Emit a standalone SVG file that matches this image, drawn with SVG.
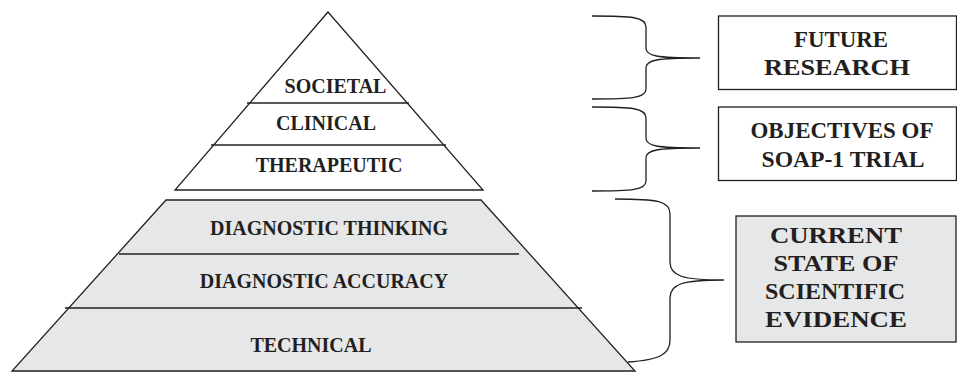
<svg xmlns="http://www.w3.org/2000/svg" width="957" height="372" viewBox="0 0 957 372">
  <defs>
    <style>
      .edge { fill: none; stroke: #231f20; stroke-width: 1.3; }
      .tier-top { fill: #ffffff; stroke: #231f20; stroke-width: 1.3; stroke-linejoin: miter; }
      .tier-base { fill: #e6e7e8; stroke: #231f20; stroke-width: 1.3; stroke-linejoin: miter; }
      .box { fill: #ffffff; stroke: #231f20; stroke-width: 1.3; }
      .box-grey { fill: #e6e7e8; stroke: #231f20; stroke-width: 1.3; }
      .lbl { font-family: "Liberation Serif", "Times New Roman", serif; font-weight: bold; fill: #231f20; text-anchor: middle; }
      .lvl { font-size: 20px; }
      .cap { font-size: 23.5px; }
    </style>
  </defs>

  <!-- upper pyramid: societal / clinical / therapeutic -->
  <g id="pyramid-top">
    <polygon class="tier-top" points="328,12 175,190 483,190"/>
    <line class="edge" x1="247" y1="103" x2="409" y2="103"/>
    <line class="edge" x1="211" y1="145" x2="446" y2="145"/>
  </g>
  <g id="level-societal"><text class="lbl lvl" x="335.5" y="93">SOCIETAL</text></g>
  <g id="level-clinical"><text class="lbl lvl" x="326" y="130">CLINICAL</text></g>
  <g id="level-therapeutic"><text class="lbl lvl" x="329" y="172">THERAPEUTIC</text></g>

  <!-- lower pyramid: diagnostic thinking / accuracy / technical -->
  <g id="pyramid-base">
    <polygon class="tier-base" points="166,200 481,200 635,371 12,371"/>
    <line class="edge" x1="119" y1="254" x2="519" y2="254"/>
    <line class="edge" x1="65" y1="308" x2="582" y2="308"/>
  </g>
  <g id="level-diag-thinking"><text class="lbl lvl" x="329" y="235">DIAGNOSTIC THINKING</text></g>
  <g id="level-diag-accuracy"><text class="lbl lvl" x="324" y="288">DIAGNOSTIC ACCURACY</text></g>
  <g id="level-technical"><text class="lbl lvl" x="311" y="352">TECHNICAL</text></g>

  <!-- braces grouping the levels -->
  <g id="connectors">
    <path class="edge" d="M592,16 C632,16 646,17 646,27 L646,48 C646,56 656,58 700,58 M700,58 C656,58 646,60 646,68 L646,89 C646,98 632,99 592,99"/>
    <path class="edge" d="M592,107 C632,107 646,108 646,118 L646,138 C646,146 656,148 700,148 M700,148 C656,148 646,150 646,158 L646,181 C646,190 632,191 592,191"/>
    <path class="edge" d="M615,199 C658,199 670,201 670,214 L670,262 C670,276 682,280 724,280 M724,280 C682,280 670,284 670,298 L670,340 C670,354 660,360 628,362"/>
  </g>

  <!-- outcome boxes -->
  <g id="box-future">
    <rect class="box" x="718.5" y="16" width="238" height="73.5"/>
    <text class="lbl cap" x="841" y="46.5" textLength="94" lengthAdjust="spacingAndGlyphs">FUTURE</text>
    <text class="lbl cap" x="837" y="75" textLength="146" lengthAdjust="spacingAndGlyphs">RESEARCH</text>
  </g>
  <g id="box-objectives">
    <rect class="box" x="718.5" y="107" width="238" height="73.5"/>
    <text class="lbl cap" x="842" y="138.3" textLength="183" lengthAdjust="spacingAndGlyphs">OBJECTIVES OF</text>
    <text class="lbl cap" x="843" y="166.7" textLength="163" lengthAdjust="spacingAndGlyphs">SOAP-1 TRIAL</text>
  </g>
  <g id="box-evidence">
    <rect class="box-grey" x="736" y="216" width="220" height="126"/>
    <text class="lbl cap" x="836" y="243.3" textLength="132" lengthAdjust="spacingAndGlyphs">CURRENT</text>
    <text class="lbl cap" x="836" y="271" textLength="125" lengthAdjust="spacingAndGlyphs">STATE OF</text>
    <text class="lbl cap" x="835" y="299" textLength="140" lengthAdjust="spacingAndGlyphs">SCIENTIFIC</text>
    <text class="lbl cap" x="836" y="327.3" textLength="142" lengthAdjust="spacingAndGlyphs">EVIDENCE</text>
  </g>
</svg>
